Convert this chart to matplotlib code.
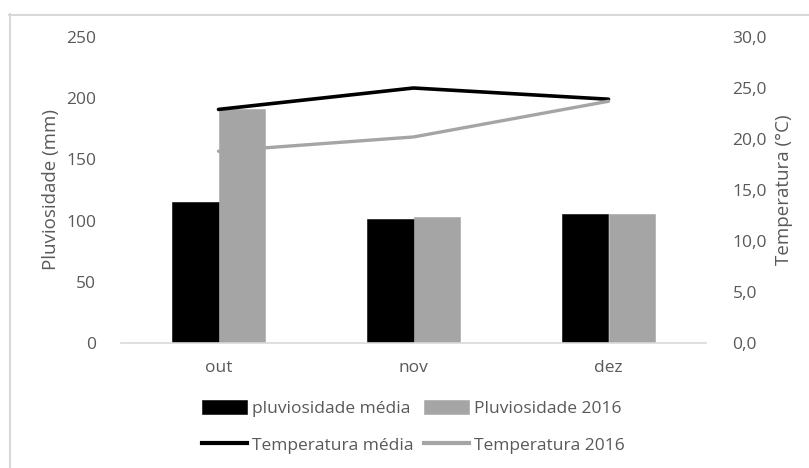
import matplotlib
matplotlib.use("Agg")
import matplotlib.pyplot as plt
from matplotlib.lines import Line2D
from matplotlib.ticker import FuncFormatter, MultipleLocator
import numpy as np

plt.rcParams['font.family'] = ['Open Sans', 'DejaVu Sans']

# Monthly data
months = ["out", "nov", "dez"]
pluv_media = [115, 101.5, 105]
pluv_2016 = [191, 103, 105]
temp_media = [22.9, 25.0, 23.9]
temp_2016 = [18.8, 20.2, 23.7]

TXT = "#595959"
GRID = "#D9D9D9"
BLACK = "#000000"
GRAY = "#A5A5A5"
FS = 12.5

W, H = 809, 468
fig = plt.figure(figsize=(W / 100, H / 100), dpi=100)
ax = fig.add_axes([121 / W, 1 - 343 / H, 585 / W, 306 / H])

x = np.arange(len(months))
bw = 0.2385
b1 = ax.bar(x - bw / 2, pluv_media, bw, color=BLACK, edgecolor=BLACK, lw=0.4,
            label="pluviosidade média", zorder=2)
b2 = ax.bar(x + bw / 2, pluv_2016, bw, color=GRAY, edgecolor=GRAY, lw=0.4,
            label="Pluviosidade 2016", zorder=2)

ax.set_xlim(-0.5, 2.5)
ax.set_ylim(0, 250)
ax.yaxis.set_major_locator(MultipleLocator(50))
ax.set_xticks(x)
ax.set_xticklabels(months)
ax.tick_params(axis="both", length=0, colors=TXT, labelsize=FS)
ax.tick_params(axis="y", pad=18)
ax.tick_params(axis="x", pad=12)
for s in ["top", "right", "left"]:
    ax.spines[s].set_visible(False)
ax.spines["bottom"].set_color(GRID)
ax.spines["bottom"].set_linewidth(1.2)
ax.set_ylabel("Pluviosidade (mm)", color=TXT, fontsize=FS + 1, labelpad=4)

ax2 = ax.twinx()
l1, = ax2.plot(x, temp_media, color=BLACK, lw=2.6, solid_capstyle="round", zorder=3)
l2, = ax2.plot(x, temp_2016, color=GRAY, lw=2.4, solid_capstyle="round", zorder=3)
ax2.set_ylim(0, 30)
ax2.yaxis.set_major_locator(MultipleLocator(5))
ax2.yaxis.set_major_formatter(FuncFormatter(lambda v, p: f"{v:.1f}".replace(".", ",")))
ax2.tick_params(axis="y", length=0, colors=TXT, labelsize=FS, pad=19)
for s in ax2.spines.values():
    s.set_visible(False)
ax2.set_ylabel("Temperatura (°C)", color=TXT, fontsize=FS + 1, rotation=90, labelpad=6)

handles = [b1, Line2D([], [], color=BLACK, lw=3),
           b2, Line2D([], [], color=GRAY, lw=3)]
labels = ["pluviosidade média", "Temperatura média",
          "Pluviosidade 2016", "Temperatura 2016"]
fig.legend(handles, labels, ncol=2, loc="center",
           bbox_to_anchor=(413.5 / W, 1 - 427 / H), frameon=False,
           fontsize=FS, labelcolor=TXT, handlelength=2.6, handleheight=0.8,
           handletextpad=0.3, columnspacing=0.6, labelspacing=1.15,
           borderpad=0)

# Chart area frame (left and top edges)
fig.add_artist(Line2D([9.5 / W, 9.5 / W], [0, 1 - 14 / H], color=GRID, lw=1.5,
                      transform=fig.transFigure))
fig.add_artist(Line2D([9 / W, 1], [1 - 14.5 / H, 1 - 14.5 / H], color=GRID, lw=1.5,
                      transform=fig.transFigure))

fig.savefig("out.png", dpi=100, facecolor="white")
